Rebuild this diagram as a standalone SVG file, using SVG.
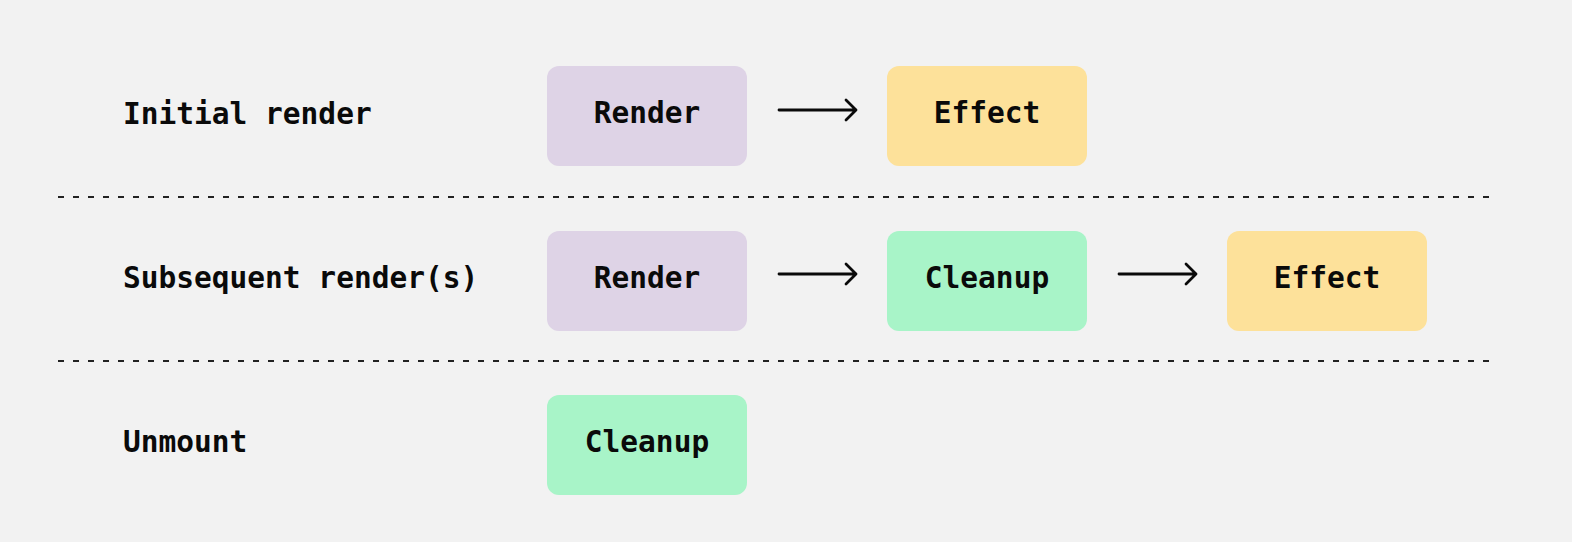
<svg xmlns="http://www.w3.org/2000/svg" width="1572" height="542" viewBox="0 0 1572 542">
<style>
.bg{fill:#F2F2F2}
.lbl{font-family:"DejaVu Sans Mono","Liberation Mono",monospace;font-size:29.5px;font-weight:bold;fill:#0A0A0A}
.txt{font-family:"DejaVu Sans Mono","Liberation Mono",monospace;font-size:29.5px;font-weight:bold;fill:#0A0A0A;text-anchor:middle}
.render{fill:#DED3E6}
.effect{fill:#FDE19A}
.cleanup{fill:#A8F4C8}
.sep{stroke:#222;stroke-width:1.8;stroke-dasharray:6 9;fill:none}
.arr{stroke:#0A0A0A;stroke-width:2.8;fill:none;stroke-linecap:round;stroke-linejoin:round}
</style>
<rect class="bg" x="0" y="0" width="1572" height="542"/>
<g id="labels">
<text class="lbl" x="123" y="124">Initial render</text>
<text class="lbl" x="123" y="288">Subsequent render(s)</text>
<text class="lbl" x="123" y="452">Unmount</text>
</g>
<g id="separators">
<line class="sep" x1="58" y1="197" x2="1492" y2="197"/>
<line class="sep" x1="58" y1="361" x2="1492" y2="361"/>
</g>
<g id="n-render1"><rect class="render" x="547" y="66" width="200" height="100" rx="12"/><text class="txt" x="647" y="123">Render</text></g>
<g id="n-effect1"><rect class="effect" x="887" y="66" width="200" height="100" rx="12"/><text class="txt" x="987" y="123">Effect</text></g>
<g id="n-render2"><rect class="render" x="547" y="231" width="200" height="100" rx="12"/><text class="txt" x="647" y="288">Render</text></g>
<g id="n-cleanup2"><rect class="cleanup" x="887" y="231" width="200" height="100" rx="12"/><text class="txt" x="987" y="288">Cleanup</text></g>
<g id="n-effect2"><rect class="effect" x="1227" y="231" width="200" height="100" rx="12"/><text class="txt" x="1327" y="288">Effect</text></g>
<g id="n-cleanup3"><rect class="cleanup" x="547" y="395" width="200" height="100" rx="12"/><text class="txt" x="647" y="452">Cleanup</text></g>
<g id="connectors">
<path class="arr" d="M779 110H856M846 100L856 110L846 120"/>
<path class="arr" d="M779 274H856M846 264L856 274L846 284"/>
<path class="arr" d="M1119 274H1196M1186 264L1196 274L1186 284"/>
</g>
</svg>
